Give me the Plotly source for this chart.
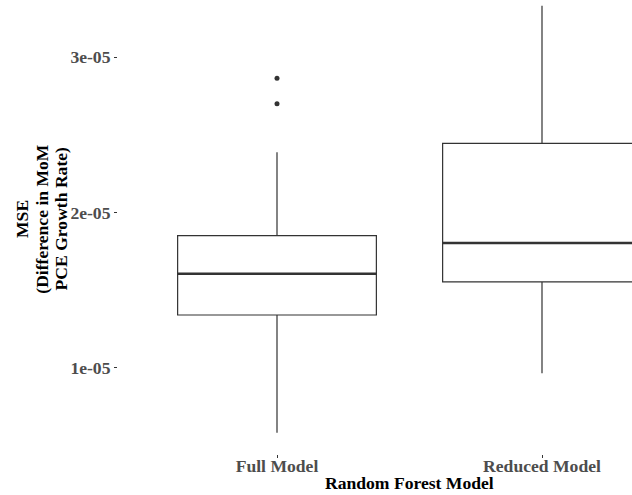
import plotly.graph_objects as go

# Random forest MSE summaries (five-number summary per model)
models = ["Full Model", "Reduced Model"]
positions = [0, 1]
lower_whisker = [0.581e-05, 0.963e-05]
q1 = [1.339e-05, 1.553e-05]
median = [1.605e-05, 1.803e-05]
q3 = [1.850e-05, 2.445e-05]
upper_whisker = [2.387e-05, 3.332e-05]

# Outlying runs of the full model
outlier_x = [0, 0]
outlier_y = [2.864e-05, 2.700e-05]

y_tickvals = [1e-05, 2e-05, 3e-05]
y_ticktext = ["1e-05", "2e-05", "3e-05"]

y_title_lines = ["MSE", "(Difference in MoM", "PCE Growth Rate)"]

box_width = 0.75
line_col = "#333333"
font_family = "Liberation Serif, Times New Roman, serif"
fsize = 17.6

fig = go.Figure()

for i, name in enumerate(models):
    fig.add_trace(go.Box(
        x=[positions[i]],
        q1=[q1[i]], median=[median[i]], q3=[q3[i]],
        lowerfence=[lower_whisker[i]], upperfence=[upper_whisker[i]],
        width=box_width,
        whiskerwidth=0,
        fillcolor="white",
        line=dict(color=line_col, width=1.2),
        boxpoints=False,
        name=name,
        showlegend=False,
        hoverinfo="skip",
    ))
    # thicker median bar
    fig.add_trace(go.Scatter(
        x=[positions[i] - box_width / 2, positions[i] + box_width / 2],
        y=[median[i], median[i]],
        mode="lines",
        line=dict(color=line_col, width=2.4),
        showlegend=False,
        hoverinfo="skip",
    ))

fig.add_trace(go.Scatter(
    x=outlier_x, y=outlier_y,
    mode="markers",
    marker=dict(color=line_col, size=5),
    showlegend=False,
    hoverinfo="skip",
))

W, H = 632, 495
ml, mb = 118, 41
plot_w = W - ml

tick_font = dict(family=font_family, size=fsize, color="#4D4D4D", weight="bold")
title_font = dict(family=font_family, size=fsize, color="black", weight="bold")

annotations = [
    dict(
        text="Random Forest Model",
        xref="paper", yref="paper",
        x=(409 - ml) / plot_w, y=0,
        xanchor="center", yanchor="middle",
        yshift=-29, showarrow=False,
        font=title_font,
    )
]
# rotated y-axis title, one annotation per line for tight line spacing
for k, line in enumerate(y_title_lines):
    annotations.append(dict(
        text=line,
        xref="paper", yref="paper",
        x=0, y=(454 - 219) / 454,
        xanchor="center", yanchor="middle",
        xshift=22 + 19.7 * k - ml, textangle=-90, showarrow=False,
        font=title_font,
    ))

fig.update_layout(
    width=W, height=H,
    margin=dict(l=ml, r=0, t=0, b=mb, pad=0),
    paper_bgcolor="white",
    plot_bgcolor="white",
    showlegend=False,
    xaxis=dict(
        range=[-0.6, -0.6 + plot_w / 265.0],
        tickvals=positions, ticktext=models,
        ticks="outside", ticklen=3, tickwidth=1, tickcolor=line_col,
        ticklabelstandoff=-7,
        showgrid=False, zeroline=False, showline=False,
        tickfont=tick_font,
    ),
    yaxis=dict(
        range=[0.4435e-05, 3.3686e-05],
        tickvals=y_tickvals, ticktext=y_ticktext,
        ticks="outside", ticklen=3, tickwidth=1, tickcolor=line_col,
        showgrid=False, zeroline=False, showline=False,
        tickfont=tick_font,
    ),
    annotations=annotations,
)

fig.write_html("out.html")
